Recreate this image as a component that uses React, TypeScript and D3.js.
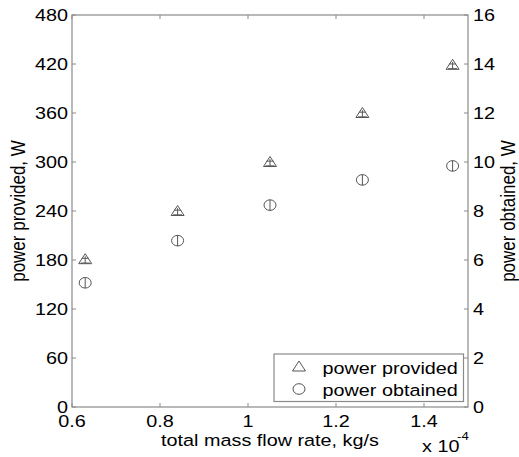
import React from "react";
import * as d3 from "d3";

const massFlow = [0.63, 0.84, 1.05, 1.26, 1.465];
const powerProvided = [181, 240, 300, 360, 419];
const powerProvidedErr = [3.5, 3.5, 3.5, 3.5, 3.5];
const powerObtained = [5.07, 6.79, 8.24, 9.27, 9.84];
const powerObtainedErr = [0.22, 0.22, 0.22, 0.22, 0.22];
const xTicks = [0.6, 0.8, 1.0, 1.2, 1.4];
const yLeftTicks = [0, 60, 120, 180, 240, 300, 360, 420, 480];
const yRightTicks = [0, 2, 4, 6, 8, 10, 12, 14, 16];
const legendLabels = ["power provided", "power obtained"];

const W = 519;
const H = 457;
const M = { left: 72, top: 15, right: 468, bottom: 407 };
const FONT = "'Liberation Sans', Arial, Helvetica, sans-serif";
const SX = 1.2;
const AXIS = "#8a8a8a";
const MARK = "#555";

function T(props: {
  x: number;
  y: number;
  size: number;
  anchor?: string;
  rotate?: number;
  dy?: string;
  children: React.ReactNode;
}) {
  const { x, y, size, anchor = "start", rotate, dy, children } = props;
  const tr = `translate(${x},${y}) scale(${SX},1)${rotate !== undefined ? ` rotate(${rotate})` : ""}`;
  return (
    <text
      transform={tr}
      fontFamily={FONT}
      fontSize={size}
      textAnchor={anchor}
      dy={dy}
      fill="#000"
    >
      {children}
    </text>
  );
}

function triPath(cx: number, cy: number) {
  return `M${cx},${cy - 5.5} L${cx + 6.5},${cy + 4.5} L${cx - 6.5},${cy + 4.5} Z`;
}

export default function App() {
  const x = d3.scaleLinear().domain([0.6, 1.5]).range([M.left, M.right]);
  const yL = d3.scaleLinear().domain([0, 480]).range([M.bottom, M.top]);
  const yR = d3.scaleLinear().domain([0, 16]).range([M.bottom, M.top]);
  const tick = 4;

  return (
    <svg
      width={W}
      height={H}
      style={{ position: "absolute", left: 0, top: 0, background: "#fff" }}
    >
      <rect x={0} y={0} width={W} height={H} fill="#fff" />
      <rect
        x={M.left}
        y={M.top}
        width={M.right - M.left}
        height={M.bottom - M.top}
        fill="none"
        stroke={AXIS}
        strokeWidth={1.2}
      />
      {xTicks.map((t) => (
        <g key={"xt" + t}>
          <line x1={x(t)} x2={x(t)} y1={M.bottom} y2={M.bottom - tick} stroke={AXIS} />
          <line x1={x(t)} x2={x(t)} y1={M.top} y2={M.top + tick} stroke={AXIS} />
          <T x={x(t)} y={427} size={16.5} anchor="middle">
            {d3.format("")(t)}
          </T>
        </g>
      ))}
      {yLeftTicks.map((t) => (
        <g key={"yl" + t}>
          <line x1={M.left} x2={M.left + tick} y1={yL(t)} y2={yL(t)} stroke={AXIS} />
          <T x={68} y={yL(t)} size={16.5} anchor="end" dy="0.36em">
            {t}
          </T>
        </g>
      ))}
      {yRightTicks.map((t) => (
        <g key={"yr" + t}>
          <line x1={M.right} x2={M.right - tick} y1={yR(t)} y2={yR(t)} stroke={AXIS} />
          <T x={473} y={yR(t)} size={16.5} anchor="start" dy="0.36em">
            {t}
          </T>
        </g>
      ))}
      <T x={25} y={(M.top + M.bottom) / 2} size={17} anchor="middle" rotate={-90}>
        power provided, W
      </T>
      <T x={515} y={(M.top + M.bottom) / 2} size={17} anchor="middle" rotate={-90}>
        power obtained, W
      </T>
      <T x={(M.left + M.right) / 2} y={446} size={16.5} anchor="middle">
        total mass flow rate, kg/s
      </T>
      <T x={422} y={452} size={16.5}>
        x 10
      </T>
      <T x={457} y={440} size={11}>
        -4
      </T>
      {massFlow.map((m, i) => {
        const cx = x(m);
        const cy = yL(powerProvided[i]);
        const y1 = yL(powerProvided[i] + powerProvidedErr[i]);
        const y2 = yL(powerProvided[i] - powerProvidedErr[i]);
        return (
          <g key={"p" + i} stroke={MARK} fill="none" strokeWidth={1}>
            <line x1={cx} x2={cx} y1={y1} y2={y2 + 1} />
            <line x1={cx - 3.5} x2={cx + 3.5} y1={y1 + 2} y2={y1 + 2} />
            <line x1={cx - 4.5} x2={cx + 4.5} y1={y2 + 1} y2={y2 + 1} />
            <path d={triPath(cx, cy)} />
          </g>
        );
      })}
      {massFlow.map((m, i) => {
        const cx = x(m);
        const cy = yR(powerObtained[i]);
        const y1 = yR(powerObtained[i] + powerObtainedErr[i]);
        const y2 = yR(powerObtained[i] - powerObtainedErr[i]);
        return (
          <g key={"o" + i} stroke={MARK} fill="none" strokeWidth={1}>
            <line x1={cx} x2={cx} y1={y1} y2={y2} />
            <ellipse cx={cx} cy={cy} rx={6} ry={5.3} />
          </g>
        );
      })}
      <rect
        x={274}
        y={354}
        width={189.5}
        height={47.5}
        fill="#fff"
        stroke={AXIS}
        strokeWidth={1.2}
      />
      <path d={triPath(299, 366.5)} stroke={MARK} fill="none" />
      <ellipse cx={299} cy={389} rx={6} ry={5.3} stroke={MARK} fill="none" />
      <T x={322.5} y={373.5} size={16.5}>
        {legendLabels[0]}
      </T>
      <T x={322.5} y={396} size={16.5}>
        {legendLabels[1]}
      </T>
    </svg>
  );
}
